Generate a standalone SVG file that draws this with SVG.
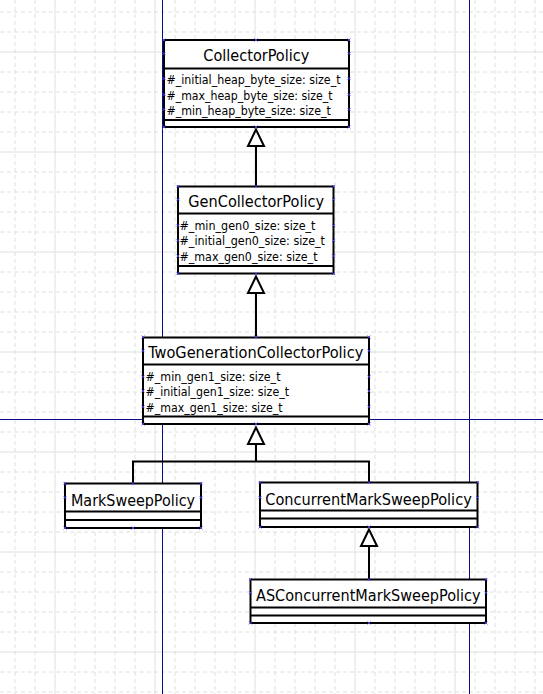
<svg xmlns="http://www.w3.org/2000/svg" xmlns:xlink="http://www.w3.org/1999/xlink" width="543" height="694" viewBox="0 0 543 694">
<style>
.gd{stroke:#dbe2df;stroke-width:1;stroke-dasharray:4 3;fill:none}
.gs{stroke:#dbe2df;stroke-width:1;fill:none}
.guide{stroke:#0a0a8c;stroke-width:1;fill:none}
.box{fill:#fff;stroke:#000;stroke-width:2}
.sep{stroke:#000;stroke-width:2;fill:none}
.conn{stroke:#000;stroke-width:2;fill:none;stroke-linejoin:miter}
.tri{fill:#fff;stroke:#000;stroke-width:2;stroke-linejoin:miter}
.title{font-family:"DejaVu Sans Condensed","DejaVu Sans",sans-serif;font-stretch:condensed;font-size:16px;fill:#000;text-anchor:middle}
.attr{font-family:"DejaVu Sans Condensed","DejaVu Sans",sans-serif;font-stretch:condensed;font-size:12px;fill:#000}
.cp{stroke:#4a4aff;stroke-width:0.8;fill:none}
</style>
<defs>
<symbol id="m" overflow="visible"><path class="cp" d="M-1.5,-1.5L1.5,1.5M-1.5,1.5L1.5,-1.5"/></symbol>
</defs>
<rect width="543" height="694" fill="#fff"/>
<g id="grid">
<path class="gd" d="M15,0V694M35,0V694M75,0V694M95,0V694M115,0V694M135,0V694M175,0V694M195,0V694M215,0V694M235,0V694M275,0V694M295,0V694M315,0V694M335,0V694M375,0V694M395,0V694M415,0V694M435,0V694M475,0V694M495,0V694M515,0V694M535,0V694"/>
<path class="gd" d="M0,12H543M0,32H543M0,72H543M0,92H543M0,112H543M0,132H543M0,172H543M0,192H543M0,212H543M0,232H543M0,272H543M0,292H543M0,312H543M0,332H543M0,372H543M0,392H543M0,412H543M0,432H543M0,472H543M0,492H543M0,512H543M0,532H543M0,572H543M0,592H543M0,612H543M0,632H543M0,672H543M0,692H543"/>
<path class="gs" d="M55,0V694M155,0V694M255,0V694M355,0V694M455,0V694M0,52H543M0,152H543M0,252H543M0,352H543M0,452H543M0,552H543M0,652H543"/>
</g>
<g id="guides">
<path class="guide" d="M162.5,0V694M469.5,0V694M0,419.5H543"/>
</g>
<g id="connectors">
<path class="conn" d="M256,146V186.5"/>
<path class="tri" d="M256,129.5L248,146H264Z"/>
<path class="conn" d="M256,293V337.5"/>
<path class="tri" d="M256,276.5L248,293H264Z"/>
<path class="conn" d="M256,444V461.5M133,483.5V461.5H369V482.5"/>
<path class="tri" d="M256,427.5L248,444H264Z"/>
<path class="conn" d="M369,546V579.5"/>
<path class="tri" d="M369,529.5L361,546H377Z"/>
</g>
<g id="CollectorPolicy">
<rect class="box" x="164" y="40" width="185" height="87"/>
<path class="sep" d="M164,68.5H349M164,120H349"/>
<text class="title" x="256.3" y="61" textLength="106" lengthAdjust="spacingAndGlyphs">CollectorPolicy</text>
<text class="attr" x="166.5" y="84.3" textLength="174" lengthAdjust="spacingAndGlyphs">#_initial_heap_byte_size: size_t</text>
<text class="attr" x="166.5" y="100" textLength="166" lengthAdjust="spacingAndGlyphs">#_max_heap_byte_size: size_t</text>
<text class="attr" x="166.5" y="115.3" textLength="164.3" lengthAdjust="spacingAndGlyphs">#_min_heap_byte_size: size_t</text>
<use xlink:href="#m" x="164" y="40"/><use xlink:href="#m" x="256" y="40"/><use xlink:href="#m" x="349" y="40"/>
<use xlink:href="#m" x="164" y="53.5"/><use xlink:href="#m" x="349" y="53.5"/>
<use xlink:href="#m" x="164" y="78.5"/><use xlink:href="#m" x="349" y="78.5"/>
<use xlink:href="#m" x="164" y="94.5"/><use xlink:href="#m" x="349" y="94.5"/>
<use xlink:href="#m" x="164" y="109.5"/><use xlink:href="#m" x="349" y="109.5"/>
<use xlink:href="#m" x="164" y="127"/><use xlink:href="#m" x="256" y="127"/><use xlink:href="#m" x="349" y="127"/>
</g>
<g id="GenCollectorPolicy">
<rect class="box" x="178" y="186.5" width="155.5" height="87"/>
<path class="sep" d="M178,213.5H333.5M178,266H333.5"/>
<text class="title" x="256.2" y="207.3" textLength="135.7" lengthAdjust="spacingAndGlyphs">GenCollectorPolicy</text>
<text class="attr" x="179.5" y="230" textLength="136" lengthAdjust="spacingAndGlyphs">#_min_gen0_size: size_t</text>
<text class="attr" x="179.5" y="245" textLength="145.5" lengthAdjust="spacingAndGlyphs">#_initial_gen0_size: size_t</text>
<text class="attr" x="179.5" y="260.7" textLength="138" lengthAdjust="spacingAndGlyphs">#_max_gen0_size: size_t</text>
<use xlink:href="#m" x="178" y="186.5"/><use xlink:href="#m" x="256" y="186.5"/><use xlink:href="#m" x="333.5" y="186.5"/>
<use xlink:href="#m" x="178" y="199.5"/><use xlink:href="#m" x="333.5" y="199.5"/>
<use xlink:href="#m" x="178" y="225.5"/><use xlink:href="#m" x="333.5" y="225.5"/>
<use xlink:href="#m" x="178" y="240.5"/><use xlink:href="#m" x="333.5" y="240.5"/>
<use xlink:href="#m" x="178" y="256"/><use xlink:href="#m" x="333.5" y="256"/>
<use xlink:href="#m" x="178" y="273.5"/><use xlink:href="#m" x="256" y="273.5"/><use xlink:href="#m" x="333.5" y="273.5"/>
</g>
<g id="TwoGenerationCollectorPolicy">
<rect class="box" x="143" y="337.5" width="226" height="86.5"/>
<path class="sep" d="M143,364.5H369M143,416.5H369"/>
<text class="title" x="255.8" y="358.3" textLength="215" lengthAdjust="spacingAndGlyphs">TwoGenerationCollectorPolicy</text>
<text class="attr" x="145.5" y="380.7" textLength="135" lengthAdjust="spacingAndGlyphs">#_min_gen1_size: size_t</text>
<text class="attr" x="145.5" y="396.3" textLength="143.5" lengthAdjust="spacingAndGlyphs">#_initial_gen1_size: size_t</text>
<text class="attr" x="145.5" y="411.7" textLength="137" lengthAdjust="spacingAndGlyphs">#_max_gen1_size: size_t</text>
<use xlink:href="#m" x="143" y="337"/><use xlink:href="#m" x="256" y="337"/><use xlink:href="#m" x="369" y="337"/>
<use xlink:href="#m" x="143" y="350.7"/><use xlink:href="#m" x="369" y="350.7"/>
<use xlink:href="#m" x="143" y="376.7"/><use xlink:href="#m" x="369" y="376.7"/>
<use xlink:href="#m" x="143" y="391"/><use xlink:href="#m" x="369" y="391"/>
<use xlink:href="#m" x="143" y="406.7"/><use xlink:href="#m" x="369" y="406.7"/>
<use xlink:href="#m" x="143" y="424"/><use xlink:href="#m" x="256" y="424"/><use xlink:href="#m" x="369" y="424"/>
</g>
<g id="MarkSweepPolicy">
<rect class="box" x="65" y="483.5" width="136" height="44.5"/>
<path class="sep" d="M65,511.5H201M65,520H201"/>
<text class="title" x="133" y="505.7" textLength="124" lengthAdjust="spacingAndGlyphs">MarkSweepPolicy</text>
<use xlink:href="#m" x="65" y="483.5"/><use xlink:href="#m" x="133" y="483.5"/><use xlink:href="#m" x="201" y="483.5"/>
<use xlink:href="#m" x="65" y="497.5"/><use xlink:href="#m" x="201" y="497.5"/>
<use xlink:href="#m" x="65" y="528"/><use xlink:href="#m" x="133" y="528"/><use xlink:href="#m" x="201" y="528"/>
</g>
<g id="ConcurrentMarkSweepPolicy">
<rect class="box" x="260" y="482.5" width="217.5" height="44.5"/>
<path class="sep" d="M260,510.5H477.5M260,518.5H477.5"/>
<text class="title" x="368.5" y="505" textLength="206.5" lengthAdjust="spacingAndGlyphs">ConcurrentMarkSweepPolicy</text>
<use xlink:href="#m" x="260" y="482.5"/><use xlink:href="#m" x="369" y="482.5"/><use xlink:href="#m" x="477.5" y="482.5"/>
<use xlink:href="#m" x="260" y="497.5"/><use xlink:href="#m" x="477.5" y="497.5"/>
<use xlink:href="#m" x="260" y="527"/><use xlink:href="#m" x="369" y="527"/><use xlink:href="#m" x="477.5" y="527"/>
</g>
<g id="ASConcurrentMarkSweepPolicy">
<rect class="box" x="250.5" y="579.5" width="235.5" height="43.5"/>
<path class="sep" d="M250.5,607.5H486M250.5,615.5H486"/>
<text class="title" x="368.3" y="601" textLength="224.5" lengthAdjust="spacingAndGlyphs">ASConcurrentMarkSweepPolicy</text>
<use xlink:href="#m" x="250.5" y="579.5"/><use xlink:href="#m" x="369" y="579.5"/><use xlink:href="#m" x="486" y="579.5"/>
<use xlink:href="#m" x="250.5" y="592.7"/><use xlink:href="#m" x="486" y="592.7"/>
<use xlink:href="#m" x="250.5" y="623"/><use xlink:href="#m" x="369" y="623"/><use xlink:href="#m" x="486" y="623"/>
</g>
</svg>
